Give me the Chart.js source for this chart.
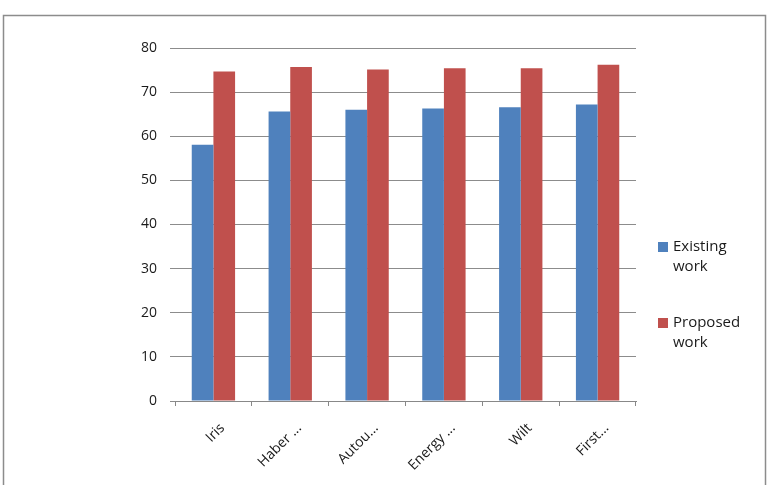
<!DOCTYPE html>
<html>
<head>
<meta charset="utf-8">
<script src="https://cdn.jsdelivr.net/npm/chart.js@4/dist/chart.umd.min.js"></script>
<style>
  html, body { margin: 0; padding: 0; background: #fff; }
  #wrap { width: 769px; height: 485px; }
</style>
</head>
<body>
<div id="wrap"><canvas id="chart" width="769" height="485"></canvas></div>
<script>
const categories = ["Iris", "Haber ...", "Autou...", "Energy ...", "Wilt", "First..."];
const existingWork = [58.1, 65.6, 66.0, 66.3, 66.6, 67.2];
const proposedWork = [74.7, 75.7, 75.1, 75.4, 75.4, 76.2];
const seriesNames = [["Existing", "work"], ["Proposed", "work"]];
const yTicks = [0, 10, 20, 30, 40, 50, 60, 70, 80];

const FONT = "'Open Sans', 'Noto Sans', sans-serif";

// outer frame of the chart object
const framePlugin = {
  id: "frame",
  beforeDraw(chart) {
    const ctx = chart.ctx;
    ctx.save();
    ctx.fillStyle = "#fff";
    ctx.fillRect(0, 0, chart.width, chart.height);
    ctx.strokeStyle = "#8c8c8c";
    ctx.lineWidth = 1.5;
    ctx.strokeRect(3.5, 15.5, 762, 480);
    ctx.restore();
  },
};

// legend on the right with wrapped labels
const sideLegend = {
  id: "sideLegend",
  afterDraw(chart) {
    const ctx = chart.ctx;
    ctx.save();
    ctx.font = "15px " + FONT;
    ctx.textBaseline = "middle";
    const tops = [247, 323];
    chart.data.datasets.forEach((ds, i) => {
      const y = tops[i];
      ctx.fillStyle = ds.backgroundColor;
      ctx.fillRect(658, y - 5, 10, 10);
      ctx.fillStyle = "#1a1a1a";
      ds.label.forEach((line, j) => ctx.fillText(line, 673, y + j * 20));
    });
    ctx.restore();
  },
};

new Chart(document.getElementById("chart"), {
  type: "bar",
  data: {
    labels: categories,
    datasets: [
      {
        label: seriesNames[0],
        data: existingWork,
        backgroundColor: "#4f81bd",
        borderWidth: 0,
      },
      {
        label: seriesNames[1],
        data: proposedWork,
        backgroundColor: "#c0504d",
        borderWidth: 0,
      },
    ],
  },
  options: {
    responsive: false,
    animation: false,
    layout: { padding: { left: 0, right: 133, top: 48, bottom: 0 } },
    plugins: {
      legend: { display: false },
      tooltip: { enabled: false },
    },
    datasets: {
      bar: { categoryPercentage: 0.564, barPercentage: 1 },
    },
    scales: {
      x: {
        grid: {
          offset: true,
          drawOnChartArea: false,
          drawTicks: true,
          tickLength: 5,
          color: "#888",
        },
        border: { display: true, color: "#888" },
        ticks: {
          minRotation: 45,
          maxRotation: 45,
          color: "#1a1a1a",
          font: { family: FONT, size: 14 },
          padding: 14,
          labelOffset: 9,
        },
        afterFit(scale) {
          scale.height = 84;
        },
      },
      y: {
        min: 0,
        max: 80,
        afterBuildTicks(scale) {
          scale.ticks = yTicks.map((v) => ({ value: v }));
        },
        grid: { color: "#8c8c8c", lineWidth: 1, drawTicks: true, tickLength: 5 },
        border: { display: false },
        ticks: {
          color: "#1a1a1a",
          padding: 13,
          font: { family: FONT, size: 14 },
        },
        afterFit(scale) {
          scale.width = 175;
        },
      },
    },
  },
  plugins: [framePlugin, sideLegend],
});
</script>
</body>
</html>
